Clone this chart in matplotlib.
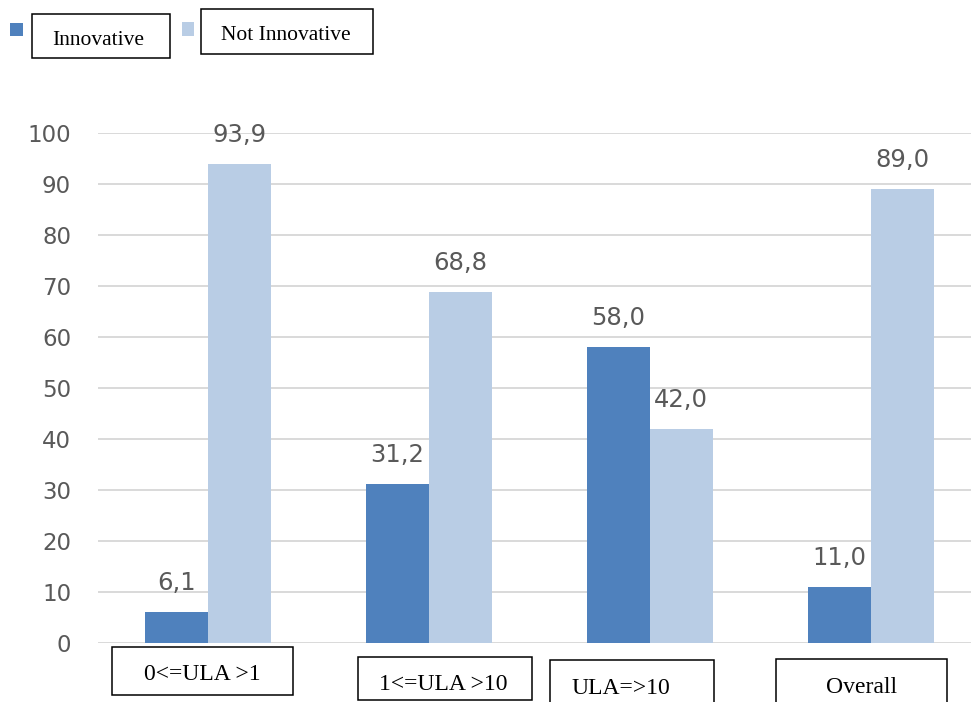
import matplotlib
matplotlib.use("Agg")
import matplotlib.pyplot as plt
from matplotlib.patches import Rectangle
import numpy as np

categories = ["0<=ULA >1", "1<=ULA >10", "ULA=>10", "Overall"]
series_names = ["Innovative", "Not Innovative"]
innovative = [6.1, 31.2, 58.0, 11.0]
not_innovative = [93.9, 68.8, 42.0, 89.0]
yticks = [0, 10, 20, 30, 40, 50, 60, 70, 80, 90, 100]

DARK = "#4F81BD"
LIGHT = "#B9CDE5"
GRAY = "#595959"
W, H = 971, 702

fig = plt.figure(figsize=(W / 100, H / 100), dpi=100)

def fx(px):
    return px / W

def fy(py):
    return 1 - py / H

# axes placement (pixels)
ax_l, ax_r, ax_b, ax_t = 97.5, 981.0, 643.0, 133.0
ax = fig.add_axes([fx(ax_l), fy(ax_b), (ax_r - ax_l) / W, (ax_b - ax_t) / H])

x = np.arange(len(categories))
bw = 0.285
ax.bar(x - bw / 2, innovative, width=bw, color=DARK, zorder=3)
ax.bar(x + bw / 2, not_innovative, width=bw, color=LIGHT, zorder=3)

tick_font = dict(family=["DejaVu Sans"], size=16.5, color=GRAY)
lab_font = dict(family=["DejaVu Sans"], size=17.5, color=GRAY)
for xs, vals in ((x - bw / 2, innovative), (x + bw / 2, not_innovative)):
    for xi, v in zip(xs, vals):
        ax.annotate(f"{v:.1f}".replace(".", ","), (xi, v), xytext=(0, 16),
                    textcoords="offset points", ha="center", va="baseline", **lab_font)

ax.set_xlim(-0.5, len(categories) - 0.5)
ax.set_ylim(0, 100)
ax.set_yticks(yticks)
ax.set_yticklabels([str(t) for t in yticks], **tick_font)
ax.tick_params(axis="y", length=0, pad=19)
ax.set_xticks([])
for s in ax.spines.values():
    s.set_visible(False)
ax.yaxis.grid(True, color="#D9D9D9", linewidth=1.4, zorder=0)
ax.set_axisbelow(True)

serif = dict(family=["Liberation Serif", "DejaVu Serif"], color="black")

def box(x0, y0, x1, y1):
    fig.add_artist(Rectangle((fx(x0), fy(y1)), (x1 - x0) / W, (y1 - y0) / H,
                             transform=fig.transFigure, fill=False,
                             edgecolor="black", linewidth=1.1))

# category label boxes (pixel layout)
cat_boxes = [(112, 647, 293, 695), (358, 657, 532, 700),
             (550, 660, 714, 720), (776, 659, 947, 720)]
cat_text_pos = [(202, 680), (443, 690), (621, 694), (862, 693)]
for name, bx, tp in zip(categories, cat_boxes, cat_text_pos):
    box(*bx)
    fig.text(fx(tp[0]), fy(tp[1]), name, ha="center", va="baseline", size=17, **serif)

# legend
leg_sq = [(10, 23, 23, 36), (182, 22, 194, 36)]
leg_boxes = [(32, 14, 170, 58), (201, 9, 373, 54)]
leg_text_pos = [(98, 45), (286, 40)]
for name, col, sq, bx, tp in zip(series_names, [DARK, LIGHT], leg_sq, leg_boxes, leg_text_pos):
    fig.add_artist(Rectangle((fx(sq[0]), fy(sq[3])), (sq[2] - sq[0]) / W, (sq[3] - sq[1]) / H,
                             transform=fig.transFigure, color=col, linewidth=0))
    box(*bx)
    fig.text(fx(tp[0]), fy(tp[1]), name, ha="center", va="baseline", size=15.5, **serif)

fig.savefig("out.png", dpi=100)
